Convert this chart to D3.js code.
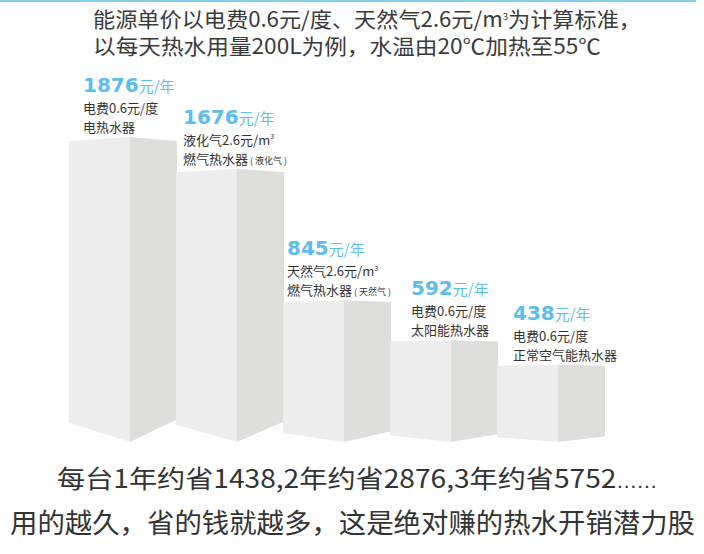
<!DOCTYPE html>
<html><head><meta charset="utf-8">
<script src="https://cdn.jsdelivr.net/npm/d3@7/dist/d3.min.js"></script>
<style>body{margin:0;background:#fff;} svg{display:block;}</style>
</head><body>
<script>
// ---- data ----
const categories = ["电热水器", "燃气热水器（液化气）", "燃气热水器（天然气）", "太阳能热水器", "正常空气能热水器"];
const annualCost = [1876, 1676, 845, 592, 438];
const priceLabels = ["电费0.6元/度", "液化气2.6元/m³", "天然气2.6元/m³", "电费0.6元/度", "电费0.6元/度"];
const heaterNames = ["电热水器", "燃气热水器", "燃气热水器", "太阳能热水器", "正常空气能热水器"];
const nameNotes = ["", "( 液化气 )", "( 天然气 )", "", ""];
const unitLabel = "元/年";
const titleLines = ["能源单价以电费0.6元/度、天然气2.6元/m³为计算标准，", "以每天热水用量200L为例，水温由20℃加热至55℃"];
const footerLines = ["每台1年约省1438,2年约省2876,3年约省5752", "用的越久，省的钱就越多，这是绝对赚的热水开销潜力股"];
const footerTail = "……";

// ---- layout (not data) ----
const W = 704, H = 554;
const labelDx = [14, 7, 4, 21, 16];
const CJK = "'Noto Sans CJK SC', 'Noto Sans', sans-serif";
const BLUE = "#5cbdf0";

const svg = d3.select("body").append("svg").attr("width", W).attr("height", H);
svg.append("rect").attr("width", W).attr("height", H).attr("fill", "#fff");
svg.append("rect").attr("x", 0).attr("y", 0).attr("width", 696).attr("height", 2).attr("fill", "#86cdf2");

// helper: write a string with "³" rendered as a small superscript
function writeRich(textSel, str, supSize) {
  const parts = str.split("³");
  parts.forEach((p, i) => {
    if (i > 0) {
      textSel.append("tspan").attr("font-size", supSize).attr("dy", -supSize * 0.75).text("3");
      textSel.append("tspan").attr("dy", supSize * 0.75).text(p);
    } else if (p.length) {
      textSel.append("tspan").text(p);
    }
  });
}

// title
const titleLens = [548, 508];
titleLines.forEach((t, i) => {
  const tx = svg.append("text").attr("x", 93).attr("y", 27 + i * 27)
    .attr("font-family", CJK).attr("font-size", 21).attr("fill", "#3a3a3a")
    .attr("textLength", titleLens[i]).attr("lengthAdjust", "spacingAndGlyphs");
  writeRich(tx, t, 9);
});

// scales
const x = d3.scaleBand().domain(categories).range([69, 604]).paddingInner(0).paddingOuter(0);
const y = d3.scaleLinear().domain([0, 1876]).range([434, 137]);
const base = 442;
const leftFrac = 0.57;

const data = categories.map((c, i) => ({c, v: annualCost[i], i}));

const g = svg.append("g");
data.forEach(d => {
  const xl = x(d.c);
  const xc = xl + x.bandwidth() * leftFrac;
  const xr = xl + x.bandwidth() + 1;
  const top = y(d.v);
  const h = base - top;
  const left = [[xl, top + 0.013 * h], [xc, top], [xc, base], [xl, base - 0.063 * h]];
  const right = [[xc, top], [xr, top + 0.013 * h], [xr, base - 0.075 * h], [xc, base]];
  g.append("path").attr("d", d3.line()(left) + "Z").attr("fill", "#ededed");
  g.append("path").attr("d", d3.line()(right) + "Z").attr("fill", "#dededd");
});

// labels
data.forEach(d => {
  const lx = x(d.c) + labelDx[d.i];
  const top = y(d.v);
  const vt = svg.append("text").attr("x", lx).attr("y", top - 45).attr("fill", BLUE);
  vt.append("tspan").attr("font-family", "'DejaVu Sans', sans-serif").attr("font-weight", "bold")
    .attr("font-size", 20).text(d.v);
  vt.append("tspan").attr("font-family", CJK).attr("font-size", 15).text(unitLabel);

  const l1 = svg.append("text").attr("x", lx).attr("y", top - 24)
    .attr("font-family", CJK).attr("font-size", 13).attr("fill", "#333");
  writeRich(l1, priceLabels[d.i], 7);

  const l2 = svg.append("text").attr("x", lx).attr("y", top - 5)
    .attr("font-family", CJK).attr("font-size", 13).attr("fill", "#333");
  l2.append("tspan").text(heaterNames[d.i]);
  if (nameNotes[d.i]) {
    l2.append("tspan").attr("font-size", 9).attr("dx", 2).text(nameNotes[d.i]);
  }
});

// footer
const footerSpecs = [{x: 57, y: 488, size: 25, len: 600}, {x: 10, y: 533, size: 27, len: 685}];
footerLines.forEach((t, i) => {
  const s = footerSpecs[i];
  const ft = svg.append("text").attr("x", s.x).attr("y", s.y)
    .attr("font-family", CJK).attr("font-size", s.size).attr("fill", "#333")
    .attr("textLength", s.len).attr("lengthAdjust", "spacingAndGlyphs");
  ft.append("tspan").text(t);
  if (i === 0) ft.append("tspan").attr("font-family", "'DejaVu Sans', sans-serif").attr("font-size", 18).text(footerTail);
});
</script>
</body></html>
